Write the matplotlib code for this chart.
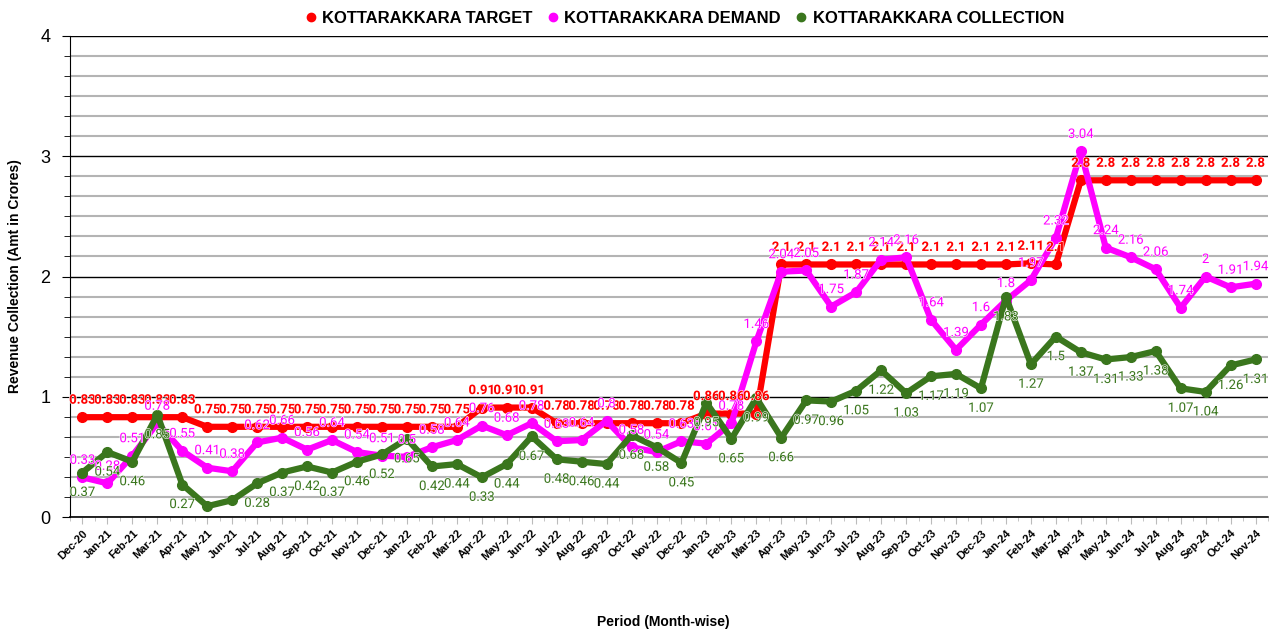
import matplotlib
matplotlib.use("Agg")
from matplotlib import pyplot as plt
from matplotlib.ticker import MultipleLocator, FixedLocator
import matplotlib.patheffects as pe

months = ["Dec-20", "Jan-21", "Feb-21", "Mar-21", "Apr-21", "May-21", "Jun-21", "Jul-21",
          "Aug-21", "Sep-21", "Oct-21", "Nov-21", "Dec-21", "Jan-22", "Feb-22", "Mar-22",
          "Apr-22", "May-22", "Jun-22", "Jul-22", "Aug-22", "Sep-22", "Oct-22", "Nov-22",
          "Dec-22", "Jan-23", "Feb-23", "Mar-23", "Apr-23", "May-23", "Jun-23", "Jul-23",
          "Aug-23", "Sep-23", "Oct-23", "Nov-23", "Dec-23", "Jan-24", "Feb-24", "Mar-24",
          "Apr-24", "May-24", "Jun-24", "Jul-24", "Aug-24", "Sep-24", "Oct-24", "Nov-24"]

target = [0.83, 0.83, 0.83, 0.83, 0.83, 0.75, 0.75, 0.75, 0.75, 0.75, 0.75, 0.75,
          0.75, 0.75, 0.75, 0.75, 0.91, 0.91, 0.91, 0.78, 0.78, 0.78, 0.78, 0.78,
          0.78, 0.86, 0.86, 0.86, 2.1, 2.1, 2.1, 2.1, 2.1, 2.1, 2.1, 2.1,
          2.1, 2.1, 2.11, 2.1, 2.8, 2.8, 2.8, 2.8, 2.8, 2.8, 2.8, 2.8]

demand = [0.33, 0.28, 0.51, 0.78, 0.55, 0.41, 0.38, 0.62, 0.66, 0.56, 0.64, 0.54,
          0.51, 0.5, 0.58, 0.64, 0.76, 0.68, 0.78, 0.63, 0.64, 0.8, 0.58, 0.54,
          0.63, 0.61, 0.78, 1.46, 2.04, 2.05, 1.75, 1.87, 2.14, 2.16, 1.64, 1.39,
          1.6, 1.8, 1.97, 2.32, 3.04, 2.24, 2.16, 2.06, 1.74, 2, 1.91, 1.94]

collection = [0.37, 0.54, 0.46, 0.85, 0.27, 0.09, 0.14, 0.28, 0.37, 0.42, 0.37, 0.46,
              0.52, 0.65, 0.42, 0.44, 0.33, 0.44, 0.67, 0.48, 0.46, 0.44, 0.68, 0.58,
              0.45, 0.95, 0.65, 0.99, 0.66, 0.97, 0.96, 1.05, 1.22, 1.03, 1.17, 1.19,
              1.07, 1.83, 1.27, 1.5, 1.37, 1.31, 1.33, 1.38, 1.07, 1.04, 1.26, 1.31]

# collection labels that are not shown in the original
hidden_collection = ["May-21", "Jun-21"]

red = "#ff0000"
pink = "#ff00ff"
green = "#3a761d"

fig = plt.figure(figsize=(12.73, 6.31), dpi=100)
ax = fig.add_axes([70 / 1273, 1 - 517 / 631, (1268 - 70) / 1273, (517 - 36) / 631])

x = list(range(len(months)))
ax.plot(x, target, color=red, lw=4.5, marker="o", ms=7, label="KOTTARAKKARA TARGET", zorder=3)
ax.plot(x, demand, color=pink, lw=4.5, marker="o", ms=7, label="KOTTARAKKARA DEMAND", zorder=4)
ax.plot(x, collection, color=green, lw=4.5, marker="o", ms=7, label="KOTTARAKKARA COLLECTION", zorder=5)

halo = [pe.withStroke(linewidth=0.8, foreground="white")]


def fmt(v):
    return ("%.2f" % v).rstrip("0").rstrip(".")


for i in x:
    ax.annotate(fmt(target[i]), (i, target[i]), xytext=(0, 17), textcoords="offset pixels",
                ha="center", va="center", color=red, fontsize=9.5, fontweight="bold",
                family="Roboto", path_effects=halo, zorder=7)
    ax.annotate(fmt(demand[i]), (i, demand[i]), xytext=(0, 17), textcoords="offset pixels",
                ha="center", va="center", color=pink, fontsize=9.5,
                family="Roboto", path_effects=halo, zorder=7)
    if months[i] not in hidden_collection:
        ax.annotate(fmt(collection[i]), (i, collection[i]), xytext=(0, -20), textcoords="offset pixels",
                    ha="center", va="center", color=green, fontsize=9.5,
                    family="Roboto", path_effects=halo, zorder=7)

ax.set_xlim(-0.5, len(months) - 0.5)
ax.set_ylim(0, 4)
ax.set_xticks(x)
ax.set_xticklabels(months, rotation=45, ha="right", rotation_mode="anchor",
                   fontsize=8, fontweight="bold", family="Liberation Sans")
ax.xaxis.set_minor_locator(FixedLocator([i + 0.5 for i in range(-1, len(months))]))
ax.tick_params(axis="x", which="major", length=5, color="#bbbbbb", pad=3)
ax.tick_params(axis="x", which="minor", length=3, color="#bbbbbb")

ax.yaxis.set_major_locator(MultipleLocator(1))
ax.yaxis.set_minor_locator(MultipleLocator(1 / 6))
ax.tick_params(axis="y", which="major", length=6, labelsize=13, pad=8, color="black")
ax.tick_params(axis="y", which="minor", length=4, color="black")
for t in ax.get_yticklabels():
    t.set_family("Liberation Sans")

ax.grid(axis="y", which="major", color="black", lw=1)
ax.grid(axis="y", which="minor", color="#b4b4b4", lw=1.5)
ax.set_axisbelow(True)

for s in ["top", "right"]:
    ax.spines[s].set_visible(False)
ax.spines["left"].set_color("black")
ax.spines["bottom"].set_color("black")
ax.spines["bottom"].set_linewidth(1.2)

ax.set_ylabel("Revenue Collection (Amt in Crores)", fontsize=10, fontweight="bold",
              family="Liberation Sans", va="center")
ax.yaxis.set_label_coords(-0.046, 0.5)
ax.set_xlabel("Period (Month-wise)", fontsize=10, fontweight="bold",
              family="Liberation Sans", va="center")
ax.xaxis.set_label_coords(0.495, -0.218)

leg = fig.legend(loc="center", bbox_to_anchor=(0.538, 0.971), ncol=3, frameon=False,
                 handlelength=0.6, handletextpad=0.4, columnspacing=0.9,
                 prop={"family": "Liberation Sans", "weight": "bold", "size": 12})
for h in leg.legend_handles:
    h.set_linestyle("")
    h.set_markersize(6)

fig.savefig("out.png", dpi=100)
